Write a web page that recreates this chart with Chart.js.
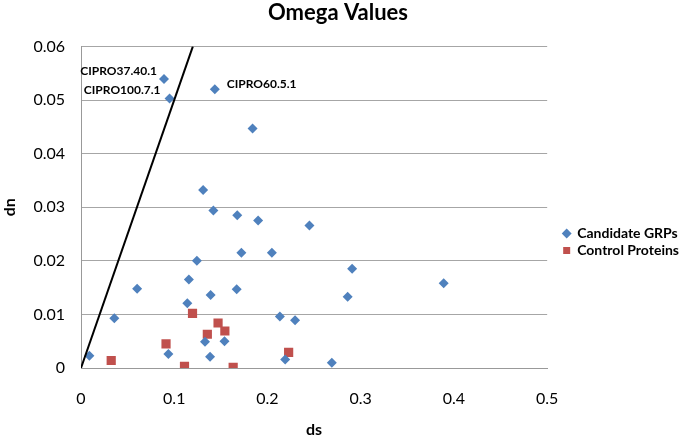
<!DOCTYPE html>
<html>
<head>
<meta charset="utf-8">
<title>Omega Values</title>
<script src="https://cdn.jsdelivr.net/npm/chart.js@4.4.1/dist/chart.umd.min.js"></script>
<style>
    html, body { margin: 0; padding: 0; background: #fff; }
    #wrap { width: 685px; height: 438px; }
</style>
</head>
<body>
<div id="wrap"><canvas id="omegaChart"></canvas></div>
<script>
// values
const candidateDs = [0.089, 0.095, 0.1435, 0.184, 0.131, 0.142, 0.1676, 0.190, 0.172, 0.2047,
    0.1243, 0.1157, 0.0602, 0.139, 0.167, 0.114, 0.245, 0.2908, 0.286, 0.389,
    0.009, 0.0357, 0.0937, 0.133, 0.1539, 0.1384, 0.2133, 0.2296, 0.219, 0.269];
const candidateDn = [0.0539, 0.0503, 0.0520, 0.0447, 0.0332, 0.0294, 0.0285, 0.0275, 0.0215, 0.0215,
    0.0200, 0.0165, 0.0148, 0.0136, 0.0147, 0.0121, 0.0266, 0.0185, 0.0133, 0.0158,
    0.0023, 0.0093, 0.0026, 0.0049, 0.0050, 0.0021, 0.0096, 0.0089, 0.0016, 0.0010];
const controlDs = [0.0324, 0.0912, 0.111, 0.1196, 0.1355, 0.147, 0.1543, 0.1632, 0.2227];
const controlDn = [0.0014, 0.0045, 0.0003, 0.0102, 0.0063, 0.0084, 0.0069, 0.0001, 0.0029];
const omegaLineDs = [0, 0.12];
const omegaLineDn = [0, 0.06];
const labelledPoints = [0, 1, 2];
const labelNames = ['CIPRO37.40.1', 'CIPRO100.7.1', 'CIPRO60.5.1'];
const xTicks = [0, 0.1, 0.2, 0.3, 0.4, 0.5];
const yTicks = [0, 0.01, 0.02, 0.03, 0.04, 0.05, 0.06];

const toPoints = (xs, ys) => xs.map((x, i) => ({ x: x, y: ys[i] }));

// names next to three of the candidate points
const pointNames = {
    id: 'pointNames',
    afterDatasetsDraw(chart) {
        const ctx = chart.ctx;
        const meta = chart.getDatasetMeta(0);
        ctx.save();
        ctx.font = 'bold 12px Lato';
        ctx.fillStyle = '#000';
        ctx.textBaseline = 'middle';
        labelledPoints.forEach((idx, i) => {
            const pt = meta.data[idx];
            if (i < 2) {
                ctx.textAlign = 'right';
                ctx.fillText(labelNames[i], pt.x - (i === 0 ? 7 : 9), pt.y - 8);
            } else {
                ctx.textAlign = 'left';
                ctx.fillText(labelNames[i], pt.x + 12, pt.y - 5);
            }
        });
        ctx.restore();
    }
};

// move the legend to where the reference has it
const legendShift = {
    id: 'legendShift',
    afterLayout(chart) {
        const lg = chart.legend;
        const dy = 242 - (lg.top + lg.bottom) / 2;
        lg.top += dy;
        lg.bottom += dy;
        lg.left += 13;
        lg.right += 13;
    }
};

const ctx = document.getElementById('omegaChart').getContext('2d');
new Chart(ctx, {
    type: 'scatter',
    data: {
        datasets: [{
            label: 'Candidate GRPs',
            data: toPoints(candidateDs, candidateDn),
            pointStyle: 'rectRot',
            pointRadius: 5,
            pointHoverRadius: 5,
            backgroundColor: '#4F81BD',
            borderColor: '#4F81BD',
            borderWidth: 0,
            order: 2
        }, {
            label: 'Control Proteins',
            data: toPoints(controlDs, controlDn),
            pointStyle: 'rect',
            pointRadius: 6.5,
            pointHoverRadius: 6.5,
            backgroundColor: '#C0504D',
            borderColor: '#C0504D',
            borderWidth: 0,
            order: 2
        }, {
            type: 'line',
            label: 'omega = 1',
            data: toPoints(omegaLineDs, omegaLineDn),
            borderColor: '#000',
            borderWidth: 2,
            pointRadius: 0,
            fill: false,
            order: 1
        }]
    },
    options: {
        responsive: true,
        maintainAspectRatio: false,
        animation: false,
        layout: { padding: { left: 0, right: 9, top: 0, bottom: 0 } },
        plugins: {
            title: {
                display: true,
                text: 'Omega Values',
                color: '#000',
                font: { family: 'Lato', size: 22, weight: 'bold' },
                padding: { top: 0, bottom: 20 }
            },
            legend: {
                position: 'right',
                labels: {
                    usePointStyle: true,
                    boxWidth: 7,
                    boxHeight: 7,
                    padding: 3,
                    color: '#000',
                    font: { family: 'Lato', size: 14, weight: 'bold' },
                    filter: item => item.datasetIndex < 2
                }
            },
            tooltip: { enabled: false }
        },
        scales: {
            x: {
                type: 'linear',
                min: 0,
                max: 0.5,
                afterBuildTicks: scale => { scale.ticks = xTicks.map(v => ({ value: v })); },
                afterFit: scale => { scale.height = 70; },
                ticks: {
                    color: '#000',
                    padding: 21,
                    font: { family: 'Lato', size: 16 },
                    callback: v => String(v)
                },
                grid: { display: false, drawTicks: false },
                border: { display: true, color: '#999', width: 1 },
                title: {
                    display: true,
                    text: 'ds',
                    color: '#000',
                    font: { family: 'Lato', size: 16, weight: 'bold', lineHeight: 1 },
                    padding: { top: 0, bottom: 0 }
                }
            },
            y: {
                type: 'linear',
                min: 0,
                max: 0.06,
                afterBuildTicks: scale => { scale.ticks = yTicks.map(v => ({ value: v })); },
                afterFit: scale => { scale.width = 81; },
                ticks: {
                    color: '#000',
                    padding: 16,
                    font: { family: 'Lato', size: 16 },
                    callback: v => String(v)
                },
                grid: { color: '#A6A6A6', lineWidth: 1, drawTicks: false },
                border: { display: true, color: '#999', width: 1 },
                title: {
                    display: true,
                    text: 'dn',
                    color: '#000',
                    font: { family: 'Lato', size: 16, weight: 'bold' },
                    padding: { top: 0, bottom: 0 }
                }
            }
        }
    },
    plugins: [pointNames, legendShift]
});
</script>
</body>
</html>
